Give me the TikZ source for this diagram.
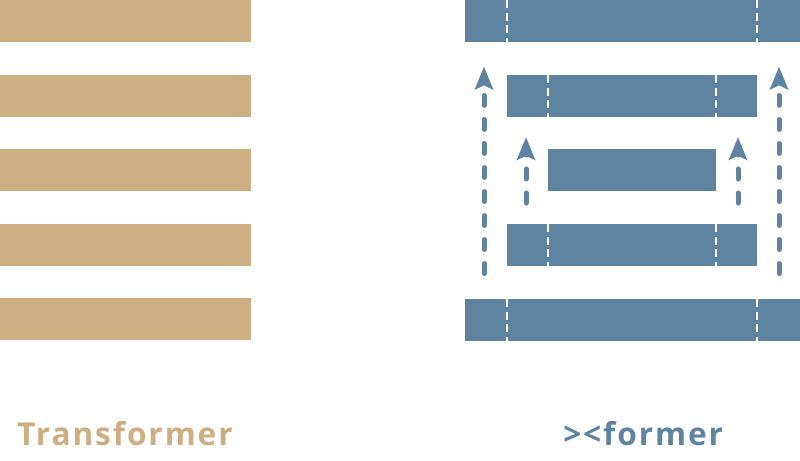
\documentclass[tikz,border=0pt]{standalone}
\usepackage{fontspec}
\setmainfont{Open Sans}
\usetikzlibrary{positioning, arrows.meta}

\definecolor{tanbrown}{HTML}{CCAE82}
\definecolor{steelblue}{HTML}{5E84A2}
\newfontfamily\labelfont[LetterSpace=6]{Open Sans Bold}

\begin{document}
\begin{tikzpicture}[
    x=0.025cm, y=-0.025cm,
    tanbar/.style={rectangle, fill=tanbrown, minimum width=6.275cm, minimum height=1.05cm, inner sep=0pt},
    bluebar/.style={rectangle, fill=steelblue, minimum height=1.05cm, inner sep=0pt},
    divider/.style={white, line width=1.6pt, dash pattern=on 0.2cm off 0.12cm},
    flow/.style={steelblue, line width=0.125cm, line cap=round, dash pattern=on 0.25cm off 0.35cm,
                 -{Stealth[length=0.57cm, width=0.45cm, inset=0.1cm]}},
    caption/.style={font=\labelfont\fontsize{22.5}{26}\selectfont, anchor=base west, inner sep=0pt}
]
\useasboundingbox (0,0) rectangle (800,460);

% Transformer stack
\foreach \y [count=\i] in {21,96,170,245,319} {
    \node[tanbar] (t\i) at (125.5,\y) {};
}

% ><former stack
\node[bluebar, minimum width=8.375cm] (b1) at (632.5,21) {};
\node[bluebar, minimum width=6.25cm]  (b2) at (632,96) {};
\node[bluebar, minimum width=4.2cm]   (b3) at (632,170) {};
\node[bluebar, minimum width=6.25cm]  (b4) at (632,245) {};
\node[bluebar, minimum width=8.375cm] (b5) at (632.5,320) {};

% split marks
\foreach \outer/\inner in {b1/b2, b5/b4} {
    \draw[divider] (\inner.west |- \outer.north) -- (\inner.west |- \outer.south);
    \draw[divider] (\inner.east |- \outer.north) -- (\inner.east |- \outer.south);
}
\foreach \outer in {b2, b4} {
    \draw[divider] (b3.west |- \outer.north) -- (b3.west |- \outer.south);
    \draw[divider] (b3.east |- \outer.north) -- (b3.east |- \outer.south);
}

% skip arrows
\coordinate (lo0) at (484,273.5);  \coordinate (lo1) at (484,66.5);
\coordinate (ro0) at (779,273.5);  \coordinate (ro1) at (779,66.5);
\coordinate (li0) at (526,203);    \coordinate (li1) at (526,137);
\coordinate (ri0) at (738,203);    \coordinate (ri1) at (738,137);
\draw[flow] (lo0) -- (lo1);
\draw[flow] (ro0) -- (ro1);
\draw[flow] (li0) -- (li1);
\draw[flow] (ri0) -- (ri1);

% captions
\node[caption, text=tanbrown] (cap1) at (17,445) {Transformer};
\node[caption, text=steelblue] (cap2) at (563,445) {><former};

\end{tikzpicture}
\end{document}
